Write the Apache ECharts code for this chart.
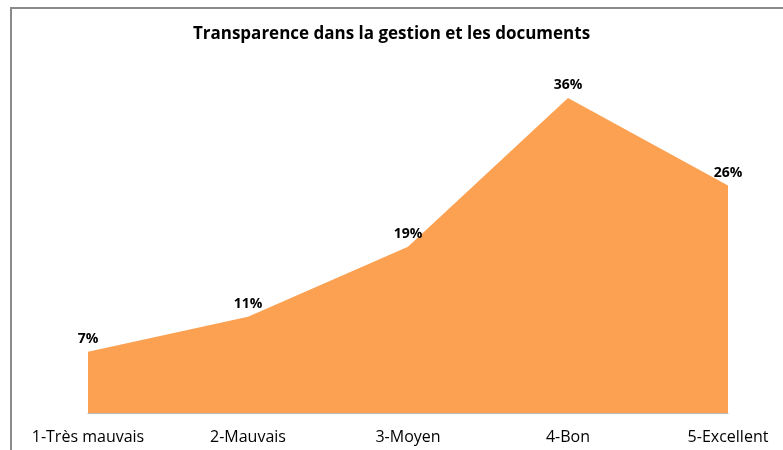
<!DOCTYPE html>
<html>
<head>
<meta charset="utf-8">
<script src="https://cdn.jsdelivr.net/npm/echarts@6/dist/echarts.min.js"></script>
<style>
  html, body { margin: 0; padding: 0; background: #fff; }
  #chart { width: 783px; height: 450px; }
</style>
</head>
<body>
<div id="chart"></div>
<script>
const categories = ['1-Très mauvais', '2-Mauvais', '3-Moyen', '4-Bon', '5-Excellent'];
const shares = [7, 11, 19, 36, 26];

const chart = echarts.init(document.getElementById('chart'));
chart.setOption({
  backgroundColor: '#fff',
  animation: false,
  title: {
    text: 'Transparence dans la gestion et les documents',
    left: 'center',
    top: 21,
    textStyle: {
      fontFamily: 'Open Sans',
      fontWeight: 'bold',
      fontSize: 17,
      color: '#000'
    }
  },
  graphic: [{
    type: 'rect',
    shape: { x: 11, y: 8, width: 800, height: 500 },
    style: { fill: 'none', stroke: '#8a8a8a', lineWidth: 2 },
    silent: true
  }],
  grid: { left: 88, right: 55, top: 63, bottom: 37 },
  xAxis: {
    type: 'category',
    data: categories,
    boundaryGap: false,
    axisLine: { lineStyle: { color: '#b9b9b9', width: 1 } },
    axisTick: { show: false },
    axisLabel: {
      color: '#000',
      fontFamily: 'Open Sans',
      fontSize: 16,
      margin: 16,
      interval: 0
    }
  },
  yAxis: {
    type: 'value',
    min: 0,
    max: 40,
    show: false
  },
  series: [{
    type: 'line',
    data: shares,
    symbol: 'circle',
    symbolSize: 1,
    showSymbol: true,
    itemStyle: { color: 'rgba(0,0,0,0)' },
    lineStyle: { width: 0 },
    areaStyle: { color: '#fca152', opacity: 1 },
    label: {
      show: true,
      position: 'top',
      distance: 5,
      formatter: '{c}%',
      fontFamily: 'Open Sans',
      fontWeight: 'bold',
      fontSize: 14,
      color: '#000'
    }
  }]
});
</script>
</body>
</html>
